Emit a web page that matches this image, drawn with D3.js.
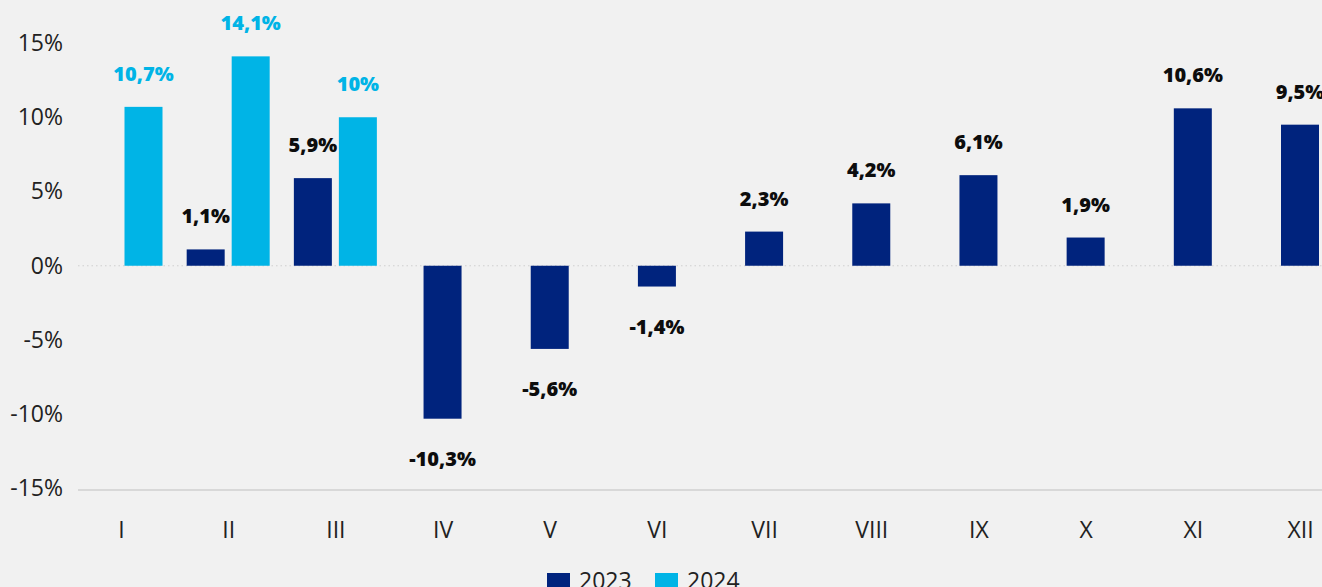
<!DOCTYPE html>
<html>
<head>
<meta charset="utf-8">
<script src="https://cdn.jsdelivr.net/npm/d3@7"></script>
<style>
  html, body { margin: 0; padding: 0; background: #f1f1f1; overflow: hidden; }
  svg { display: block; }
  text { font-family: "Open Sans", "DejaVu Sans", sans-serif; }
</style>
</head>
<body>
<svg id="chart" width="1322" height="587"></svg>
<script>
// Monthly change, %
const months = ["I", "II", "III", "IV", "V", "VI", "VII", "VIII", "IX", "X", "XI", "XII"];
// 2023: January has no reading, but its slot is kept
const values2023 = [null, 1.1, 5.9, -10.3, -5.6, -1.4, 2.3, 4.2, 6.1, 1.9, 10.6, 9.5];
// 2024: first quarter only
const values2024 = [10.7, 14.1, 10.0];
const yTicks = [-15, -10, -5, 0, 5, 10, 15];
const seriesNames = ["2023", "2024"];
const barColors = ["#00237d", "#00b4e6"];
const labelColors = ["#0d0d0d", "#00b4e6"];

const series = [values2023, values2024];

const W = 1322, H = 587;
const svg = d3.select("#chart");

const plotLeft = 78;
const x = d3.scalePoint().domain(months).range([121, 1300]);
const y = d3.scaleLinear().domain([-15, 15]).range([488.5, 43]);

const barW = 38, innerGap = 7;
// decimal comma, plain hyphen for negatives, no trailing ",0"
const fmt = v => {
  const s = Math.abs(v).toFixed(1).replace(".", ",").replace(/,0$/, "");
  return (v < 0 ? "-" : "") + s + "%";
};

// y axis labels
const yAxis = d3.axisLeft(y).tickValues(yTicks).tickSize(0).tickPadding(0)
  .tickFormat(d => (d < 0 ? "-" + Math.abs(d) : d) + "%");
svg.append("g")
  .attr("transform", "translate(63,0)")
  .call(yAxis)
  .call(g => g.select(".domain").remove())
  .selectAll("text")
  .attr("font-size", 23)
  .attr("fill", "#222")
  .attr("font-family", "'Open Sans', sans-serif");

// zero line (dotted)
svg.append("line")
  .attr("x1", plotLeft).attr("x2", W)
  .attr("y1", y(0)).attr("y2", y(0))
  .attr("stroke", "#cfcfcf").attr("stroke-width", 1.2)
  .attr("stroke-dasharray", "1.5,3");

// baseline at the bottom
svg.append("line")
  .attr("x1", plotLeft).attr("x2", W)
  .attr("y1", y(-15) + 1.5).attr("y2", y(-15) + 1.5)
  .attr("stroke", "#d8d8d8").attr("stroke-width", 2);

// bars: every series with an entry at a month takes a slot there
const bars = [];
months.forEach((m, i) => {
  const slots = series.map((s, k) => k).filter(k => i < series[k].length);
  const groupW = slots.length * barW + (slots.length - 1) * innerGap;
  const start = x(m) - groupW / 2;
  slots.forEach((k, j) => {
    const v = series[k][i];
    if (v === null || v === undefined) return;
    bars.push({ m, k, v, x0: start + j * (barW + innerGap) });
  });
});

svg.append("g").selectAll("rect")
  .data(bars)
  .join("rect")
  .attr("x", d => d.x0)
  .attr("width", barW)
  .attr("y", d => Math.min(y(d.v), y(0)))
  .attr("height", d => Math.abs(y(d.v) - y(0)))
  .attr("fill", d => barColors[d.k]);

// value labels
svg.append("g").selectAll("text")
  .data(bars)
  .join("text")
  .attr("x", d => d.x0 + barW / 2)
  .attr("y", d => d.v >= 0 ? y(d.v) - 26 : y(d.v) + 47)
  .attr("text-anchor", "middle")
  .attr("font-size", 20)
  .attr("font-weight", 800)
  .attr("fill", d => labelColors[d.k])
  .text(d => fmt(d.v));

// x axis labels
const xAxis = d3.axisBottom(x).tickSize(0).tickPadding(0);
svg.append("g")
  .attr("transform", "translate(0,522)")
  .call(xAxis)
  .call(g => g.select(".domain").remove())
  .selectAll("text")
  .attr("dy", "0.71em")
  .attr("font-size", 23)
  .attr("fill", "#222")
  .attr("font-family", "'Open Sans', sans-serif");

// legend
const legend = svg.append("g").attr("transform", "translate(547,573)");
const legX = [0, 108];
seriesNames.forEach((name, k) => {
  const g = legend.append("g").attr("transform", `translate(${legX[k]},0)`);
  g.append("rect").attr("width", 23).attr("height", 23).attr("fill", barColors[k]);
  g.append("text").attr("x", 32).attr("y", 16)
    .attr("font-size", 23).attr("fill", "#222").text(name);
});
</script>
</body>
</html>
